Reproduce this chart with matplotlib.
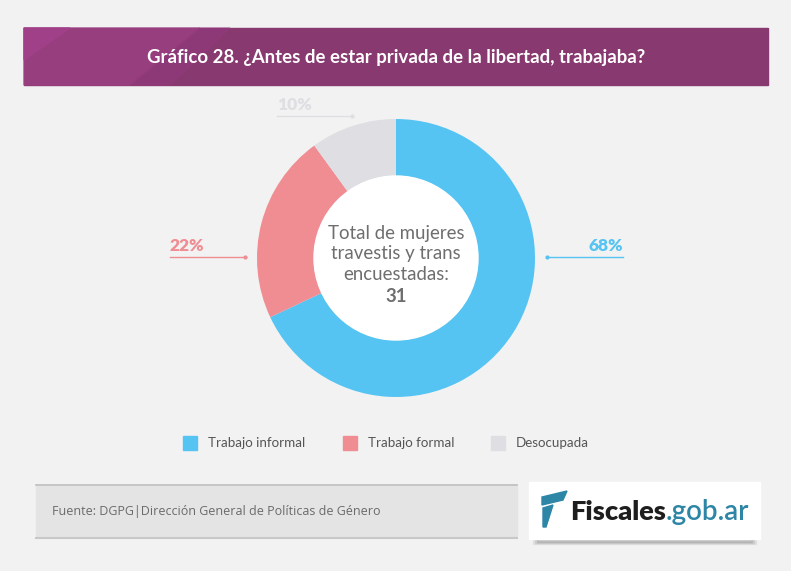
import numpy as np
import matplotlib.pyplot as plt
from matplotlib.patches import Rectangle, Polygon

# data
categorias = ["Trabajo informal", "Trabajo formal", "Desocupada"]
porcentajes = [68, 22, 10]
colores = ["#55C4F2", "#EF8D93", "#DEDEE3"]
etiquetas = ["68%", "22%", "10%"]
total = 31

W, H = 791, 571
plt.rcParams['font.family'] = ['Lato', 'DejaVu Sans']

fig = plt.figure(figsize=(W / 100, H / 100), dpi=100)
fig.patch.set_facecolor("#F2F2F2")

# background axes in pixel coords
bg = fig.add_axes([0, 0, 1, 1])
bg.set_xlim(0, W)
bg.set_ylim(H, 0)
bg.axis("off")

# header band
bg.add_patch(Rectangle((24, 28), 744, 57, color="#88396F", zorder=1))
bg.add_patch(Polygon([(24, 28), (200, 28), (130, 85), (24, 85)], color="#9C4083", alpha=0.8, zorder=2))
bg.add_patch(Polygon([(24, 28), (70, 28), (24, 60)], color="#A2418A", alpha=0.9, zorder=2))
bg.add_patch(Polygon([(200, 28), (230, 28), (170, 85), (130, 85)], color="#93397D", alpha=0.6, zorder=2))
bg.text(396, 57, "Gráfico 28. ¿Antes de estar privada de la libertad, trabajaba?",
        color="white", fontsize=13.4, fontweight="bold", ha="center", va="center", zorder=3)

# footer source box
bg.add_patch(Rectangle((36, 486), 481, 50, color="#E4E4E4", zorder=1))
bg.plot([36, 517], [484.5, 484.5], color="#BDBDBD", lw=1.2)
bg.plot([36, 517], [538, 538], color="#C8C8C8", lw=1.5)
bg.text(52, 511, "Fuente: DGPG|Dirección General de Políticas de Género",
        color="#6A6A6A", fontsize=9, ha="left", va="center", family=["Open Sans", "DejaVu Sans"])

# logo box with shadow
for i, a in enumerate([0.05, 0.07, 0.09]):
    bg.add_patch(Rectangle((533 + i * 2, 536 + i), 223 - i * 4, 8 - i * 2, color="black", alpha=a, zorder=1))
bg.add_patch(Rectangle((529, 482), 231, 57, color="white", zorder=2))
bg.add_patch(Polygon([(542, 497), (567, 491), (563, 500), (542, 505)], color="#2E86A6", zorder=3))
bg.add_patch(Polygon([(543, 508), (553, 505), (546, 527), (543, 527)], color="#2E86A6", zorder=3))
t_fis = bg.text(570, 512, "Fiscales", color="#1E1E1E", fontsize=19.5, fontweight="heavy",
                ha="left", va="center", zorder=3)
bg.annotate(".gob.ar", xy=(1, 0.5), xycoords=t_fis, color="#2E86A6", fontsize=20,
            fontweight="semibold", ha="left", va="center", zorder=3)

# donut
cx, cy, r = 396, 258, 139
ax = fig.add_axes([(cx - r) / W, (H - cy - r) / H, 2 * r / W, 2 * r / H])
ax.pie(porcentajes, colors=colores, startangle=90, counterclock=False,
       radius=1, wedgeprops=dict(width=0.41, edgecolor="none"))
ax.add_patch(plt.Circle((0, 0), 0.59, color="white", zorder=3))
ax.set_xlim(-1, 1)
ax.set_ylim(-1, 1)
ax.axis("off")

centro = ["Total de mujeres", "travestis y trans", "encuestadas:"]
for k, linea in enumerate(centro):
    ax.text(cx, 233 + 21 * k, linea, transform=bg.transData, color="#6E6E6E",
            fontsize=13.4, ha="center", va="center", zorder=4)
ax.text(cx, 296, str(total), transform=bg.transData, color="#6E6E6E", fontsize=13.4,
        fontweight="bold", ha="center", va="center", zorder=4)

# percentage labels with leader lines (pixel coords)
bg.plot([546, 623], [257, 257], color=colores[0], lw=1)
bg.plot([547], [257], "o", color=colores[0], ms=2)
bg.text(623, 246, etiquetas[0], color=colores[0], fontsize=12.5, fontweight="heavy", ha="right", va="center")

bg.plot([170, 246], [257, 257], color=colores[1], lw=1)
bg.plot([245], [257], "o", color=colores[1], ms=2)
bg.text(170, 246, etiquetas[1], color=colores[1], fontsize=12.5, fontweight="heavy", ha="left", va="center")

bg.plot([277, 353], [116, 116], color=colores[2], lw=1)
bg.plot([352], [116], "o", color=colores[2], ms=2)
bg.text(277, 105, etiquetas[2], color=colores[2], fontsize=12.5, fontweight="heavy", ha="left", va="center")

# legend
leg_x = [183, 343, 491]
for x, c, lab in zip(leg_x, colores, categorias):
    bg.add_patch(Rectangle((x, 436), 14, 14, color=c, zorder=2))
    bg.text(x + 25, 443, lab, color="#555555", fontsize=9.6, ha="left", va="center")

fig.savefig("out.png", dpi=100, facecolor=fig.get_facecolor())
